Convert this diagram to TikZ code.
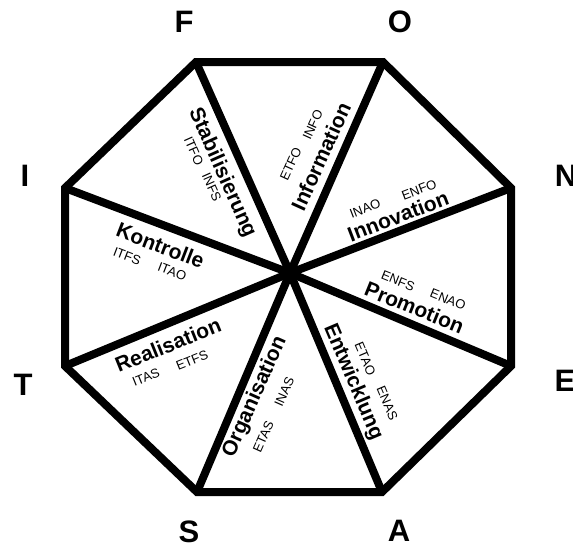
\documentclass[tikz,border=0pt]{standalone}
\usepackage{fontspec}
\setmainfont{Liberation Sans}
\begin{document}
\begin{tikzpicture}[x=1pt,y=-1pt,
  edge/.style={line width=8pt,line join=miter,line cap=round},
  vlabel/.style={font=\fontsize{31}{31}\selectfont\bfseries,inner sep=0pt},
  word/.style={font=\fontsize{21}{21}\selectfont\bfseries,inner sep=0pt},
  code/.style={font=\fontsize{13}{13}\selectfont,inner sep=0pt}]
\useasboundingbox (0,0) rectangle (573,544);
\fill[white] (0,0) rectangle (573,544);
% vertices
\coordinate (vF) at (196,62);
\coordinate (vO) at (383,62);
\coordinate (vN) at (511,188);
\coordinate (vE) at (511,366);
\coordinate (vA) at (382,492);
\coordinate (vS) at (197,492);
\coordinate (vT) at (65,366);
\coordinate (vI) at (65,188);
\coordinate (hub) at (290,273);
% octagon and spokes
\draw[edge] (vF) -- (vO) -- (vN) -- (vE) -- (vA) -- (vS) -- (vT) -- (vI) -- cycle;
\foreach \v in {vF,vO,vN,vE,vA,vS,vT,vI} \draw[edge] (hub) -- (\v);
% vertex labels
\node[vlabel] (lF) at (184,22) {F};
\node[vlabel] (lO) at (400,22) {O};
\node[vlabel] (lN) at (566,176) {N};
\node[vlabel] (lE) at (565,381) {E};
\node[vlabel] (lA) at (399,531) {A};
\node[vlabel] (lS) at (189,532) {S};
\node[vlabel] (lT) at (23,385) {T};
\node[vlabel] (lI) at (25,176) {I};
% sector words
\node[word,rotate=-66] (wStab) at (222,173) {Stabilisierung};
\node[code,rotate=-66] (cITFO) at (193.7,151) {ITFO};
\node[code,rotate=-66] (cINFS) at (211.7,187) {INFS};

\node[word,rotate=65.5] (wInfo) at (321,156.5) {Information};
\node[code,rotate=65.5] (cETFO) at (290.7,164) {ETFO};
\node[code,rotate=65.5] (cINFO) at (312.7,125) {INFO};

\node[word,rotate=21] (wInno) at (398,216) {Innovation};
\node[code,rotate=21] (cINAO) at (365.1,208.7) {INAO};
\node[code,rotate=21] (cENFO) at (419.1,189.7) {ENFO};

\node[word,rotate=-22] (wProm) at (414.5,307.5) {Promotion};
\node[code,rotate=-22] (cENFS) at (398,280.7) {ENFS};
\node[code,rotate=-22] (cENAO) at (448,299.7) {ENAO};

\node[word,rotate=-67] (wEntw) at (353,382) {Entwicklung};
\node[code,rotate=-67] (cETAO) at (365.3,359) {ETAO};
\node[code,rotate=-67] (cENAS) at (387.3,403) {ENAS};

\node[word,rotate=66] (wOrga) at (255,397) {Organisation};
\node[code,rotate=66] (cETAS) at (263.3,437) {ETAS};
\node[code,rotate=66] (cINAS) at (284.3,392) {INAS};

\node[word,rotate=22] (wReal) at (168,345) {Realisation};
\node[code,rotate=22] (cITAS) at (146,377.3) {ITAS};
\node[code,rotate=22] (cETFS) at (192,360.3) {ETFS};

\node[word,rotate=-21] (wKont) at (160.5,245.5) {Kontrolle};
\node[code,rotate=-21] (cITFS) at (127.1,256.3) {ITFS};
\node[code,rotate=-21] (cITAO) at (172.1,271.3) {ITAO};
\end{tikzpicture}
\end{document}
